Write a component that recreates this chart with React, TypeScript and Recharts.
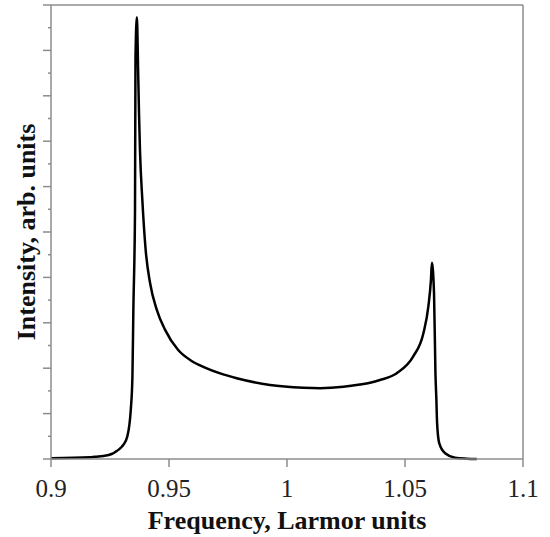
import { LineChart, Line, XAxis, YAxis, ReferenceLine } from "recharts";

// frequency (Larmor units) and intensity (arb. units)
const frequency = [
  0.9, 0.9165, 0.9186, 0.9222, 0.9257, 0.9271, 0.93, 0.9306, 0.9323, 0.9338,
  0.9345, 0.9349, 0.9356, 0.9358, 0.9364, 0.9369, 0.9373, 0.9377, 0.9387,
  0.9401, 0.942, 0.9448, 0.9483, 0.9539, 0.9596, 0.965, 0.972, 0.9787,
  0.9928, 1.0069, 1.014, 1.0239, 1.0309, 1.0352, 1.0394, 1.0465, 1.0535,
  1.0578, 1.0599, 1.061, 1.0614, 1.0623, 1.0629, 1.0633, 1.0636, 1.0645,
  1.067, 1.0712, 1.0761, 1.0804,
];
const intensity = [
  0.015, 0.037, 0.05, 0.066, 0.11, 0.15, 0.271, 0.309, 0.49, 1.08, 1.81,
  3.29, 5.49, 8.84, 9.73, 8.6, 7.6, 6.8, 5.71, 4.61, 3.87, 3.29, 2.85, 2.4,
  2.16, 2.02, 1.88, 1.78, 1.63, 1.57, 1.56, 1.59, 1.64, 1.68, 1.74, 1.89,
  2.26, 2.77, 3.36, 3.95, 4.32, 3.65, 1.89, 1.3, 0.79, 0.35, 0.126, 0.029,
  0.007, 0,
];
const xTicks = [0.9, 0.95, 1, 1.05, 1.1];
const yTicks = [
  0, 0.5, 1, 1.5, 2, 2.5, 3, 3.5, 4, 4.5, 5, 5.5, 6, 6.5, 7, 7.5, 8, 8.5, 9,
  9.5, 10,
];

const axisColor = "#8c8c8c";
const font = "'Liberation Serif', 'Times New Roman', serif";

function YTick(props: any) {
  const { x, y, payload } = props;
  const len = Number.isInteger(payload.value) ? 8 : 3;
  return (
    <line x1={x - len} y1={y} x2={x} y2={y} stroke={axisColor} strokeWidth={1.5} />
  );
}

export default function App() {
  const data = frequency.map((f, i) => ({ f, v: intensity[i] }));
  return (
    <div style={{ width: 550, height: 537, background: "#fff" }}>
      <style>{`body{margin:0}`}</style>
      <LineChart
        width={550}
        height={537}
        data={data}
        margin={{ top: 5, right: 27, bottom: 0, left: 0 }}
      >
        <XAxis
          dataKey="f"
          type="number"
          domain={[0.9, 1.1]}
          ticks={xTicks}
          height={78}
          tickSize={8}
          tickMargin={12}
          stroke={axisColor}
          strokeWidth={1.5}
          tick={{ fontSize: 25, fill: "#222", fontFamily: font }}
          label={{
            value: "Frequency, Larmor units",
            position: "insideBottom",
            offset: 8,
            style: { fontSize: 26, fontWeight: "bold", fill: "#111", fontFamily: font },
          }}
        />
        <YAxis
          type="number"
          domain={[0, 10]}
          ticks={yTicks}
          width={51}
          tickSize={0}
          tickMargin={0}
          tickLine={false}
          tick={<YTick />}
          interval={0}
          stroke={axisColor}
          strokeWidth={1.5}
          label={{
            value: "Intensity, arb. units",
            angle: -90,
            position: "center",
            style: {
              fontSize: 26,
              fontWeight: "bold",
              fill: "#111",
              fontFamily: font,
              textAnchor: "middle",
            },
          }}
        />
        <ReferenceLine y={10} stroke={axisColor} strokeWidth={1.5} />
        <ReferenceLine x={1.1} stroke={axisColor} strokeWidth={1.5} />
        <Line
          type="monotone"
          dataKey="v"
          stroke="#000"
          strokeWidth={2.5}
          dot={false}
          isAnimationActive={false}
        />
      </LineChart>
    </div>
  );
}
